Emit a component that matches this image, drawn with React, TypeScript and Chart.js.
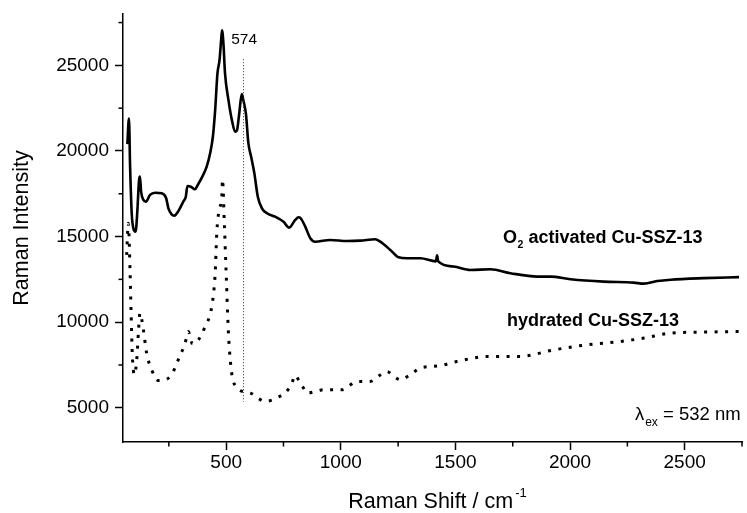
import React, { useEffect, useRef } from 'react';
import { Chart, registerables } from 'chart.js';

Chart.register(...registerables);

const FONT = '"Liberation Sans", Arial, Helvetica, sans-serif';

// O2 activated Cu-SSZ-13 (solid)
const activatedShift = [
  69, 76, 81, 88, 95, 105, 112, 120, 124, 129, 139, 150, 168, 190, 219, 238, 248, 262, 274, 292,
  313, 324, 331, 346, 364, 376, 396, 415, 430, 442, 452, 462, 471, 478, 482, 488, 495, 510, 525, 539,
  547, 557, 568, 576, 586, 597, 609, 623, 638, 656, 678, 714, 750, 775, 801, 816, 825, 845, 867, 888,
  954, 1027, 1085, 1150, 1172, 1216, 1252, 1289, 1347, 1415, 1420, 1425, 1492, 1565, 1653, 1740, 1857, 1915, 2002, 2147,
  2277, 2322, 2380, 2439, 2584, 2737,
];
const activatedIntensity = [
  20400, 21900, 19080, 16360, 15490, 15290, 16360, 18300, 18500, 17620, 17140, 17040, 17430, 17560, 17530, 17250, 16650, 16300, 16220, 16500,
  17040, 17330, 17950, 17910, 17760, 18010, 18500, 19080, 19860, 20830, 22390, 24530, 25300, 26470, 27050, 26280, 24530, 22970, 21800, 21120,
  21200, 22190, 23320, 22900, 22190, 20440, 19660, 18690, 17330, 16650, 16360, 16160, 15870, 15520, 15970, 16130, 16070, 15580, 14900, 14700,
  14800, 14740, 14760, 14840, 14700, 14220, 13790, 13730, 13730, 13550, 13900, 13550, 13250, 13050, 13090, 12860, 12660, 12660, 12510, 12370,
  12310, 12250, 12400, 12480, 12570, 12630,
];

// hydrated Cu-SSZ-13 (dotted)
const hydratedShift = [
  66, 73, 81, 85, 91, 100, 111, 117, 124, 139, 153, 175, 204, 233, 262, 291, 321, 335, 353, 379,
  408, 437, 452, 459, 469, 481, 484, 492, 500, 510, 524, 545, 561, 590, 612, 640, 670, 700, 728, 757,
  787, 800, 816, 835, 852, 890, 925, 1005, 1071, 1129, 1170, 1201, 1235, 1260, 1300, 1347, 1430, 1506, 1637, 1784,
  1929, 2075, 2220, 2322, 2439, 2584, 2737,
];
const hydratedIntensity = [
  13930, 15780, 12860, 10720, 7990, 6930, 7990, 9360, 10530, 9550, 8190, 7220, 6590, 6630, 6930, 7800, 8780, 9450, 8730, 8970,
  9740, 10910, 12860, 15190, 16550, 17330, 18340, 15780, 12860, 9360, 7030, 6200, 6010, 5900, 5820, 5550, 5370, 5450, 5630, 5860,
  6440, 6900, 6630, 6200, 5860, 5950, 6050, 6050, 6540, 6540, 6900, 7120, 6800, 6630, 6900, 7320, 7450, 7700, 7990, 8000,
  8380, 8680, 8870, 9070, 9360, 9420, 9450,
];

const xMajorTicks = [500, 1000, 1500, 2000, 2500];
const xMinorTicks = [250, 750, 1250, 1750, 2250, 2750];
const yMajorTicks = [5000, 10000, 15000, 20000, 25000];
const yMinorTicks = [7500, 12500, 17500, 22500, 27500];

const markerShift = 574;
const markerLabel = '574';
const activatedLabel = ['O', '2', ' activated Cu-SSZ-13'];
const hydratedLabel = 'hydrated Cu-SSZ-13';
const excitationLabel = ['λ', 'ex', ' = 532 nm'];
const xTitle = ['Raman Shift / cm', '-1'];
const yTitle = 'Raman Intensity';

const overlayPlugin = {
  id: 'overlay',
  afterDraw(chart: any) {
    const { ctx, chartArea } = chart;
    const x = chart.scales.x;
    const y = chart.scales.y;
    ctx.save();
    ctx.strokeStyle = '#000';
    ctx.lineWidth = 1.5;
    // minor ticks
    xMinorTicks.forEach((v) => {
      const px = x.getPixelForValue(v);
      ctx.beginPath();
      ctx.moveTo(px, chartArea.bottom);
      ctx.lineTo(px, chartArea.bottom + 4.5);
      ctx.stroke();
    });
    yMinorTicks.forEach((v) => {
      const py = y.getPixelForValue(v);
      ctx.beginPath();
      ctx.moveTo(chartArea.left, py);
      ctx.lineTo(chartArea.left - 4.5, py);
      ctx.stroke();
    });
    // marker dotted line
    ctx.lineWidth = 1;
    ctx.strokeStyle = '#333';
    ctx.setLineDash([1, 2]);
    const mx = Math.round(x.getPixelForValue(markerShift)) + 0.5;
    ctx.beginPath();
    ctx.moveTo(mx, y.getPixelForValue(25360));
    ctx.lineTo(mx, y.getPixelForValue(5350));
    ctx.stroke();
    ctx.setLineDash([]);

    ctx.fillStyle = '#000';
    ctx.textBaseline = 'alphabetic';
    ctx.textAlign = 'left';
    // 574 label
    ctx.font = `15.5px ${FONT}`;
    ctx.fillText(markerLabel, x.getPixelForValue(522), y.getPixelForValue(26220));

    // O2 activated label
    let lx = x.getPixelForValue(1708);
    const ly = y.getPixelForValue(14645);
    ctx.font = `bold 18px ${FONT}`;
    ctx.fillText(activatedLabel[0], lx, ly);
    lx += ctx.measureText(activatedLabel[0]).width;
    ctx.font = `bold 10.5px ${FONT}`;
    ctx.fillText(activatedLabel[1], lx + 0.5, ly + 5);
    lx += ctx.measureText(activatedLabel[1]).width + 0.5;
    ctx.font = `bold 18px ${FONT}`;
    ctx.fillText(activatedLabel[2], lx, ly);

    // hydrated label
    ctx.font = `bold 18px ${FONT}`;
    ctx.fillText(hydratedLabel, x.getPixelForValue(1725), y.getPixelForValue(9785));

    // excitation label (right aligned)
    ctx.font = `18.5px ${FONT}`;
    const w0 = ctx.measureText(excitationLabel[0]).width;
    const w2 = ctx.measureText(excitationLabel[2]).width;
    ctx.font = `12px ${FONT}`;
    const w1 = ctx.measureText(excitationLabel[1]).width;
    const ex = x.getPixelForValue(2744) - (w0 + w1 + w2 + 1);
    const ey = y.getPixelForValue(4300);
    ctx.font = `18.5px ${FONT}`;
    ctx.fillText(excitationLabel[0], ex, ey);
    ctx.font = `12px ${FONT}`;
    ctx.fillText(excitationLabel[1], ex + w0 + 1, ey + 6);
    ctx.font = `18.5px ${FONT}`;
    ctx.fillText(excitationLabel[2], ex + w0 + w1 + 1, ey);

    // x title with superscript
    ctx.font = `21.5px ${FONT}`;
    const tw0 = ctx.measureText(xTitle[0]).width;
    ctx.font = `13px ${FONT}`;
    const tw1 = ctx.measureText(xTitle[1]).width;
    const cx = (chartArea.left + chartArea.right) / 2 + 5;
    const tx = cx - (tw0 + tw1 + 2) / 2;
    const ty = 508;
    ctx.font = `21.5px ${FONT}`;
    ctx.fillText(xTitle[0], tx, ty);
    ctx.font = `13px ${FONT}`;
    ctx.fillText(xTitle[1], tx + tw0 + 2, ty - 11);
    ctx.restore();
  },
};

const zeroPadding = (s: any) => {
  s.paddingTop = 0;
  s.paddingBottom = 0;
  s.paddingLeft = 0;
  s.paddingRight = 0;
};

export default function App() {
  const canvasRef = useRef<HTMLCanvasElement | null>(null);

  useEffect(() => {
    const canvas = canvasRef.current;
    if (!canvas) return;
    const chart = new Chart(canvas, {
      type: 'line',
      data: {
        datasets: [
          {
            label: 'O2 activated Cu-SSZ-13',
            data: activatedShift.map((v, i) => ({ x: v, y: activatedIntensity[i] })),
            borderColor: '#000',
            borderWidth: 2.6,
            pointRadius: 0,
            cubicInterpolationMode: 'monotone',
            fill: false,
          },
          {
            label: 'hydrated Cu-SSZ-13',
            data: hydratedShift.map((v, i) => ({ x: v, y: hydratedIntensity[i] })),
            borderColor: '#000',
            borderWidth: 3,
            borderDash: [3, 7.5],
            pointRadius: 0,
            cubicInterpolationMode: 'monotone',
            fill: false,
          },
        ],
      },
      options: {
        animation: false,
        responsive: false,
        devicePixelRatio: 1,
        layout: { padding: { top: 14, right: 5, left: 0, bottom: 0 } },
        plugins: { legend: { display: false }, tooltip: { enabled: false } },
        scales: {
          x: {
            type: 'linear',
            min: 50,
            max: 2750,
            afterBuildTicks: (s: any) => {
              s.ticks = xMajorTicks.map((v) => ({ value: v }));
            },
            afterFit: (s: any) => {
              s.height = 71;
              zeroPadding(s);
            },
            ticks: {
              font: { family: FONT, size: 19 },
              color: '#000',
              padding: 1,
              maxRotation: 0,
              autoSkip: false,
              callback: (v: any) => String(v),
            },
            grid: { drawOnChartArea: false, drawTicks: true, tickLength: 8, tickColor: '#000', tickWidth: 1.5 },
            border: { display: true, color: '#000', width: 1.5 },
          },
          y: {
            type: 'linear',
            min: 3000,
            max: 28000,
            afterBuildTicks: (s: any) => {
              s.ticks = yMajorTicks.map((v) => ({ value: v }));
            },
            afterFit: (s: any) => {
              s.width = 123;
              zeroPadding(s);
            },
            ticks: {
              font: { family: FONT, size: 19 },
              color: '#000',
              padding: 6,
              autoSkip: false,
              callback: (v: any) => String(v),
            },
            grid: { drawOnChartArea: false, drawTicks: true, tickLength: 8, tickColor: '#000', tickWidth: 1.5 },
            border: { display: true, color: '#000', width: 1.5 },
            title: {
              display: true,
              text: yTitle,
              color: '#000',
              font: { family: FONT, size: 21.5 },
              padding: { top: 9, bottom: 0 },
            },
          },
        },
      },
      plugins: [overlayPlugin],
    });
    return () => chart.destroy();
  }, []);

  return (
    <div style={{ position: 'fixed', left: 0, top: 0, width: 747, height: 513, background: '#fff' }}>
      <canvas ref={canvasRef} width={747} height={513} style={{ display: 'block' }} />
    </div>
  );
}
